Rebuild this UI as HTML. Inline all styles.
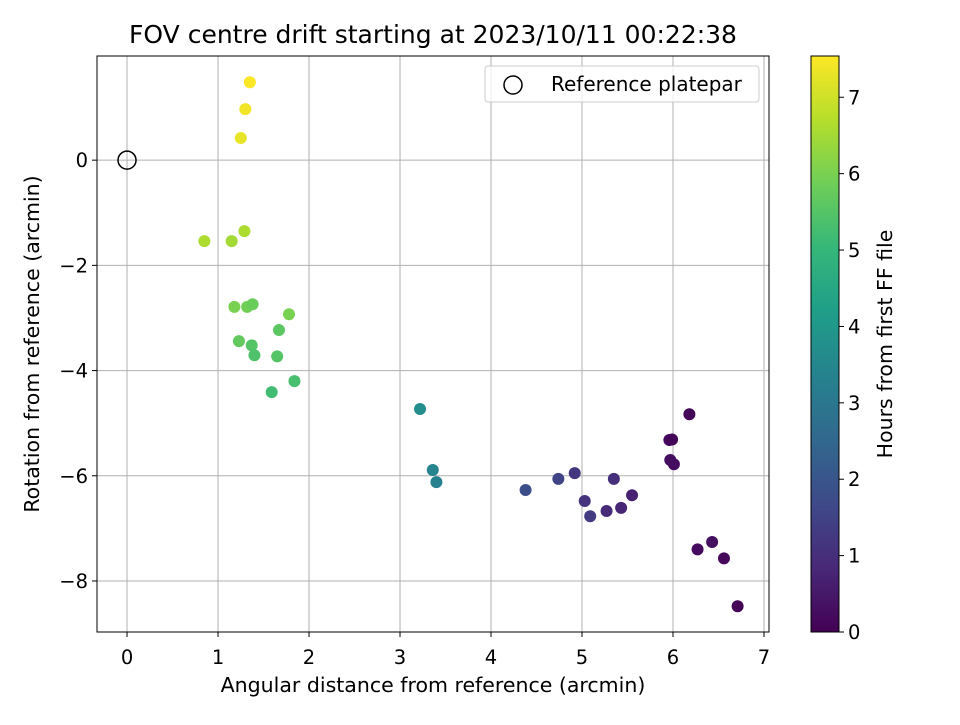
<!DOCTYPE html>
<html><head><meta charset="utf-8"><style>
body{margin:0;background:#fff;}
svg text{font-family:"DejaVu Sans","Liberation Sans",sans-serif;}
</style></head><body>
<svg id="c" width="960" height="720" xmlns="http://www.w3.org/2000/svg"></svg>
<script>
const xVals=[1.35,1.30,1.25,0.85,1.15,1.29,1.18,1.32,1.38,1.78,1.67,1.23,1.37,1.40,1.65,1.84,1.59,3.22,3.36,3.40,4.38,4.74,4.92,5.03,5.09,5.35,5.27,5.43,5.55,5.96,5.99,5.97,6.01,6.18,6.27,6.43,6.56,6.71];
const yVals=[1.48,0.97,0.42,-1.54,-1.54,-1.35,-2.79,-2.79,-2.74,-2.93,-3.23,-3.44,-3.52,-3.71,-3.73,-4.20,-4.41,-4.73,-5.89,-6.12,-6.27,-6.06,-5.95,-6.48,-6.77,-6.06,-6.67,-6.61,-6.37,-5.32,-5.31,-5.70,-5.78,-4.83,-7.40,-7.26,-7.57,-8.48];
const hours=[7.5,7.4,7.3,6.6,6.5,6.6,6.0,5.9,5.8,6.0,5.6,5.7,5.5,5.4,5.5,5.3,5.2,3.7,3.4,3.3,1.8,1.5,1.2,1.1,1.3,1.0,0.9,0.8,0.7,0.2,0.1,0.3,0.25,0.1,0.2,0.3,0.15,0.05];
const xTicks=[0,1,2,3,4,5,6,7];
const yTicks=[0,-2,-4,-6,-8];
const cTicks=[0,1,2,3,4,5,6,7];
const L=97,R=769,T=56,B=632,X0=-0.33,X1=7.055,Y0=-8.97,Y1=1.98,H1=7.54;
const sx=v=>L+(v-X0)/(X1-X0)*(R-L);
const sy=v=>B-(v-Y0)/(Y1-Y0)*(B-T);
const sc=v=>B-v/H1*(B-T);
const vir=[[68,1,84],[72,40,120],[62,74,137],[49,104,142],[38,130,142],[31,158,137],[53,183,121],[110,206,88],[181,222,43],[253,231,37]];
function cmap(t){t=Math.max(0,Math.min(1,t))*(vir.length-1);const i=Math.min(Math.floor(t),vir.length-2),f=t-i;const c=vir[i].map((a,k)=>Math.round(a+(vir[i+1][k]-a)*f));return `rgb(${c})`;}
const svg=document.getElementById('c');const NS='http://www.w3.org/2000/svg';
function el(tag,attrs,parent,txt){const e=document.createElementNS(NS,tag);for(const k in attrs)e.setAttribute(k,attrs[k]);if(txt!==undefined)e.textContent=txt;(parent||svg).appendChild(e);return e;}
xTicks.forEach(v=>{const g=el('line',{x1:sx(v),x2:sx(v),y1:T,y2:B,stroke:'#b0b0b0','stroke-width':1});
const t=el('line',{x1:sx(v),x2:sx(v),y1:B,y2:B+5,stroke:'#000'});
const l=el('text',{x:sx(v),y:B+32,'text-anchor':'middle','font-size':19.5},svg,String(v));});
yTicks.forEach(v=>{const g=el('line',{x1:L,x2:R,y1:sy(v),y2:sy(v),stroke:'#b0b0b0','stroke-width':1});
const t=el('line',{x1:L-5,x2:L,y1:sy(v),y2:sy(v),stroke:'#000'});
const l=el('text',{x:L-9,y:sy(v)+7,'text-anchor':'end','font-size':19.5},svg,v<0?'\u2212'+(-v):String(v));});
xVals.forEach((x,i)=>{const p=el('circle',{cx:sx(x),cy:sy(yVals[i]),r:6,fill:cmap(hours[i]/H1)});});
const ref=el('circle',{cx:sx(0),cy:sy(0),r:9,fill:'none',stroke:'#000','stroke-width':1.5});
const fr=el('rect',{x:L,y:T,width:R-L,height:B-T,fill:'none',stroke:'#000','stroke-width':1});
const lg=el('g',{});
el('rect',{x:485,y:66,width:274,height:36,rx:3,fill:'#fff','fill-opacity':0.8,stroke:'#ccc'},lg);
el('circle',{cx:513,cy:85,r:9,fill:'none',stroke:'#000','stroke-width':1.5},lg);
el('text',{x:551,y:91,'font-size':20},lg,'Reference platepar');
const defs=el('defs',{});const gr=el('linearGradient',{id:'vg',x1:0,y1:1,x2:0,y2:0},defs);
vir.forEach((c,i)=>el('stop',{offset:i/(vir.length-1),'stop-color':`rgb(${c})`},gr));
const cb=el('rect',{x:811,y:T,width:28,height:B-T,fill:'url(#vg)',stroke:'#000','stroke-width':1});
cTicks.forEach(v=>{el('line',{x1:839,x2:844,y1:sc(v),y2:sc(v),stroke:'#000'});const l=el('text',{x:848,y:sc(v)+7,'font-size':19.5},svg,String(v));});
const ct=el('text',{x:0,y:0,'font-size':20.5,'text-anchor':'middle',transform:'translate(892,344) rotate(-90)'},svg,'Hours from first FF file');
const tt=el('text',{x:433,y:43,'font-size':25,'text-anchor':'middle'},svg,'FOV centre drift starting at 2023/10/11 00:22:38');
const xl=el('text',{x:433,y:692,'font-size':20.5,'text-anchor':'middle'},svg,'Angular distance from reference (arcmin)');
const yl=el('text',{x:0,y:0,'font-size':20.5,'text-anchor':'middle',transform:'translate(39,344) rotate(-90)'},svg,'Rotation from reference (arcmin)');
</script>
</body></html>
